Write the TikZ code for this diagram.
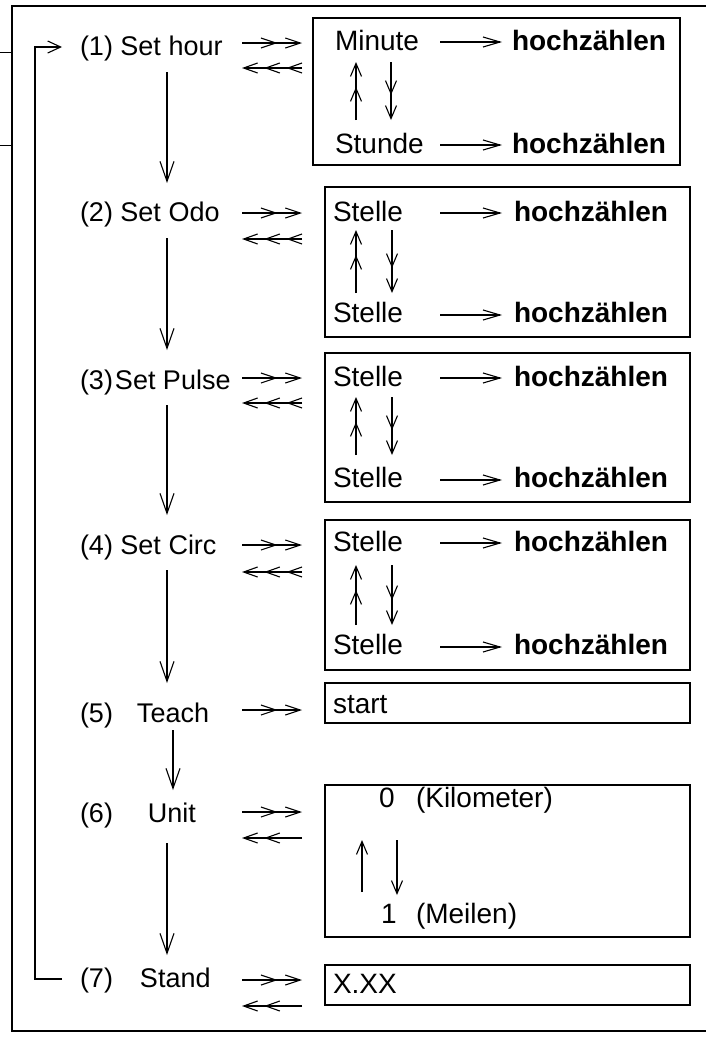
\documentclass[tikz,border=0pt]{standalone}
\usepackage{fontspec}
\setmainfont{Liberation Sans}
\usetikzlibrary{arrows.meta}
\begin{document}
\begin{tikzpicture}[x=1pt,y=-1pt,
  every node/.style={inner sep=0pt, outer sep=0pt, font=\fontsize{27}{32}\selectfont},
  lbl/.style={anchor=base west},
  btx/.style={anchor=base west, font=\fontsize{28}{32}\selectfont},
  hz/.style={anchor=base west, font=\fontsize{28}{32}\selectfont\bfseries},
  bx/.style={draw, line width=1.2pt},
  ln/.style={line width=1.2pt},
  down/.style={line width=1.1pt, -{Straight Barb[length=20pt,width=14pt]}},
  loopar/.style={line width=1.1pt, -{Straight Barb[length=13pt,width=12pt]}},
  fwdtwo/.style={line width=1.1pt, -{Straight Barb[length=15pt,width=10pt,sep=7pt]Straight Barb[length=15pt,width=10pt]}},
  backthree/.style={line width=1.1pt, -{Straight Barb[length=14pt,width=10pt,sep=6pt]Straight Barb[length=14pt,width=10pt,sep=6pt]Straight Barb[length=14pt,width=10pt]}},
  backtwo/.style={line width=1.1pt, -{Straight Barb[length=14pt,width=10pt,sep=6pt]Straight Barb[length=14pt,width=10pt]}},
  inr/.style={line width=1.1pt, -{Straight Barb[length=17pt,width=10pt]}},
  vv/.style={line width=1.1pt, -{Straight Barb[length=13pt,width=11pt,sep=10pt]Straight Barb[length=13pt,width=11pt]}},
  vone/.style={line width=1.1pt, -{Straight Barb[length=13pt,width=11pt]}}]
\useasboundingbox (0,0) rectangle (706,1039);

% page frame (scan edges)
\draw[ln] (706,6) -- (12,6) -- (12,1031) -- (706,1031);
\draw[line width=0.8pt] (0,52) -- (12,52);
\draw[line width=0.8pt] (0,145) -- (12,145);

% left labels
\node[lbl] (l1) at (80,55) {(1) Set hour};
\node[lbl] (l2) at (80,221) {(2) Set Odo};
\node[lbl] (l3) at (80,389) {(3)\hspace{2pt}Set Pulse};
\node[lbl] (l4) at (80,554) {(4) Set Circ};
\node[lbl] (l5) at (80,722) {(5)\hspace{24pt}Teach};
\node[lbl] (l6) at (80,822) {(6)\hspace{35pt}Unit};
\node[lbl] (l7) at (80,987) {(7)\hspace{27pt}Stand};

% vertical chain
\coordinate (d1a) at (167,72);  \coordinate (d1b) at (167,183);
\coordinate (d2a) at (167,238); \coordinate (d2b) at (167,350);
\coordinate (d3a) at (167,405); \coordinate (d3b) at (167,515);
\coordinate (d4a) at (167,570); \coordinate (d4b) at (167,683);
\coordinate (d5a) at (173,730); \coordinate (d5b) at (173,790);
\coordinate (d6a) at (167,843); \coordinate (d6b) at (167,955);
\draw[down] (d1a) -- (d1b);
\draw[down] (d2a) -- (d2b);
\draw[down] (d3a) -- (d3b);
\draw[down] (d4a) -- (d4b);
\draw[down] (d5a) -- (d5b);
\draw[down] (d6a) -- (d6b);

% loop back
\coordinate (lpa) at (62,979);
\coordinate (lpb) at (62,47);
\draw[loopar] (lpa) -- (35,979) -- (35,47) -- (lpb);

% boxes
\node[bx, minimum width=367pt, minimum height=147pt, anchor=north west] (b1) at (313,18) {};
\node[bx, minimum width=365pt, minimum height=150pt, anchor=north west] (b2) at (325,187) {};
\node[bx, minimum width=365pt, minimum height=149pt, anchor=north west] (b3) at (325,353) {};
\node[bx, minimum width=365pt, minimum height=150pt, anchor=north west] (b4) at (325,520) {};
\node[bx, minimum width=365pt, minimum height=40pt, anchor=north west] (b5) at (325,683) {};
\node[bx, minimum width=365pt, minimum height=152pt, anchor=north west] (b6) at (325,785) {};
\node[bx, minimum width=365pt, minimum height=40pt, anchor=north west] (b7) at (325,965) {};

% arrows between labels and boxes
\foreach \y/\z in {43/68, 213/239, 378/403, 545/572}{
  \draw[fwdtwo] (242,\y) -- (302,\y);
  \draw[backthree] (302,\z) -- (242,\z);
}
\draw[fwdtwo] (242,710) -- (302,710);
\draw[fwdtwo] (242,812) -- (302,812);
\draw[backtwo] (302,838) -- (242,838);
\draw[fwdtwo] (242,980) -- (302,980);
\draw[backtwo] (302,1006) -- (242,1006);

% box 1
\node[btx] (m1) at (335,50) {Minute};
\node[hz]  (h1a) at (512,50) {hochzählen};
\node[btx] (s1) at (335,153) {Stunde};
\node[hz]  (h1b) at (512,153) {hochzählen};
\draw[inr] (440,42) -- (502,42);
\draw[inr] (440,145) -- (502,145);
\draw[vv] (356,120) -- (356,62);
\draw[vv] (391,62) -- (391,120);

% boxes 2-4
\foreach \n/\ra/\rb/\ua/\ub in {2/213/315/293/230, 3/378/480/455/397, 4/543/647/625/565}{
  \node[btx] (st\n a) at (333,\ra+8) {Stelle};
  \node[hz]  (hz\n a) at (514,\ra+8) {hochzählen};
  \node[btx] (st\n b) at (333,\rb+7) {Stelle};
  \node[hz]  (hz\n b) at (514,\rb+7) {hochzählen};
  \draw[inr] (440,\ra) -- (502,\ra);
  \draw[inr] (440,\rb) -- (502,\rb);
  \draw[vv] (356,\ua) -- (356,\ub);
  \draw[vv] (392,\ub) -- (392,\ua);
}

% box 5
\node[btx] (t5) at (333,713) {start};

% box 6
\node[btx] (z6) at (379,807) {0};
\node[btx] (k6) at (416,807) {(Kilometer)};
\node[btx] (o6) at (381,923) {1};
\node[btx] (mi6) at (416,923) {(Meilen)};
\draw[vone] (362,892) -- (362,840);
\draw[vone] (397,840) -- (397,895);

% box 7
\node[btx] (x7) at (333,993) {X.XX};
\end{tikzpicture}
\end{document}
